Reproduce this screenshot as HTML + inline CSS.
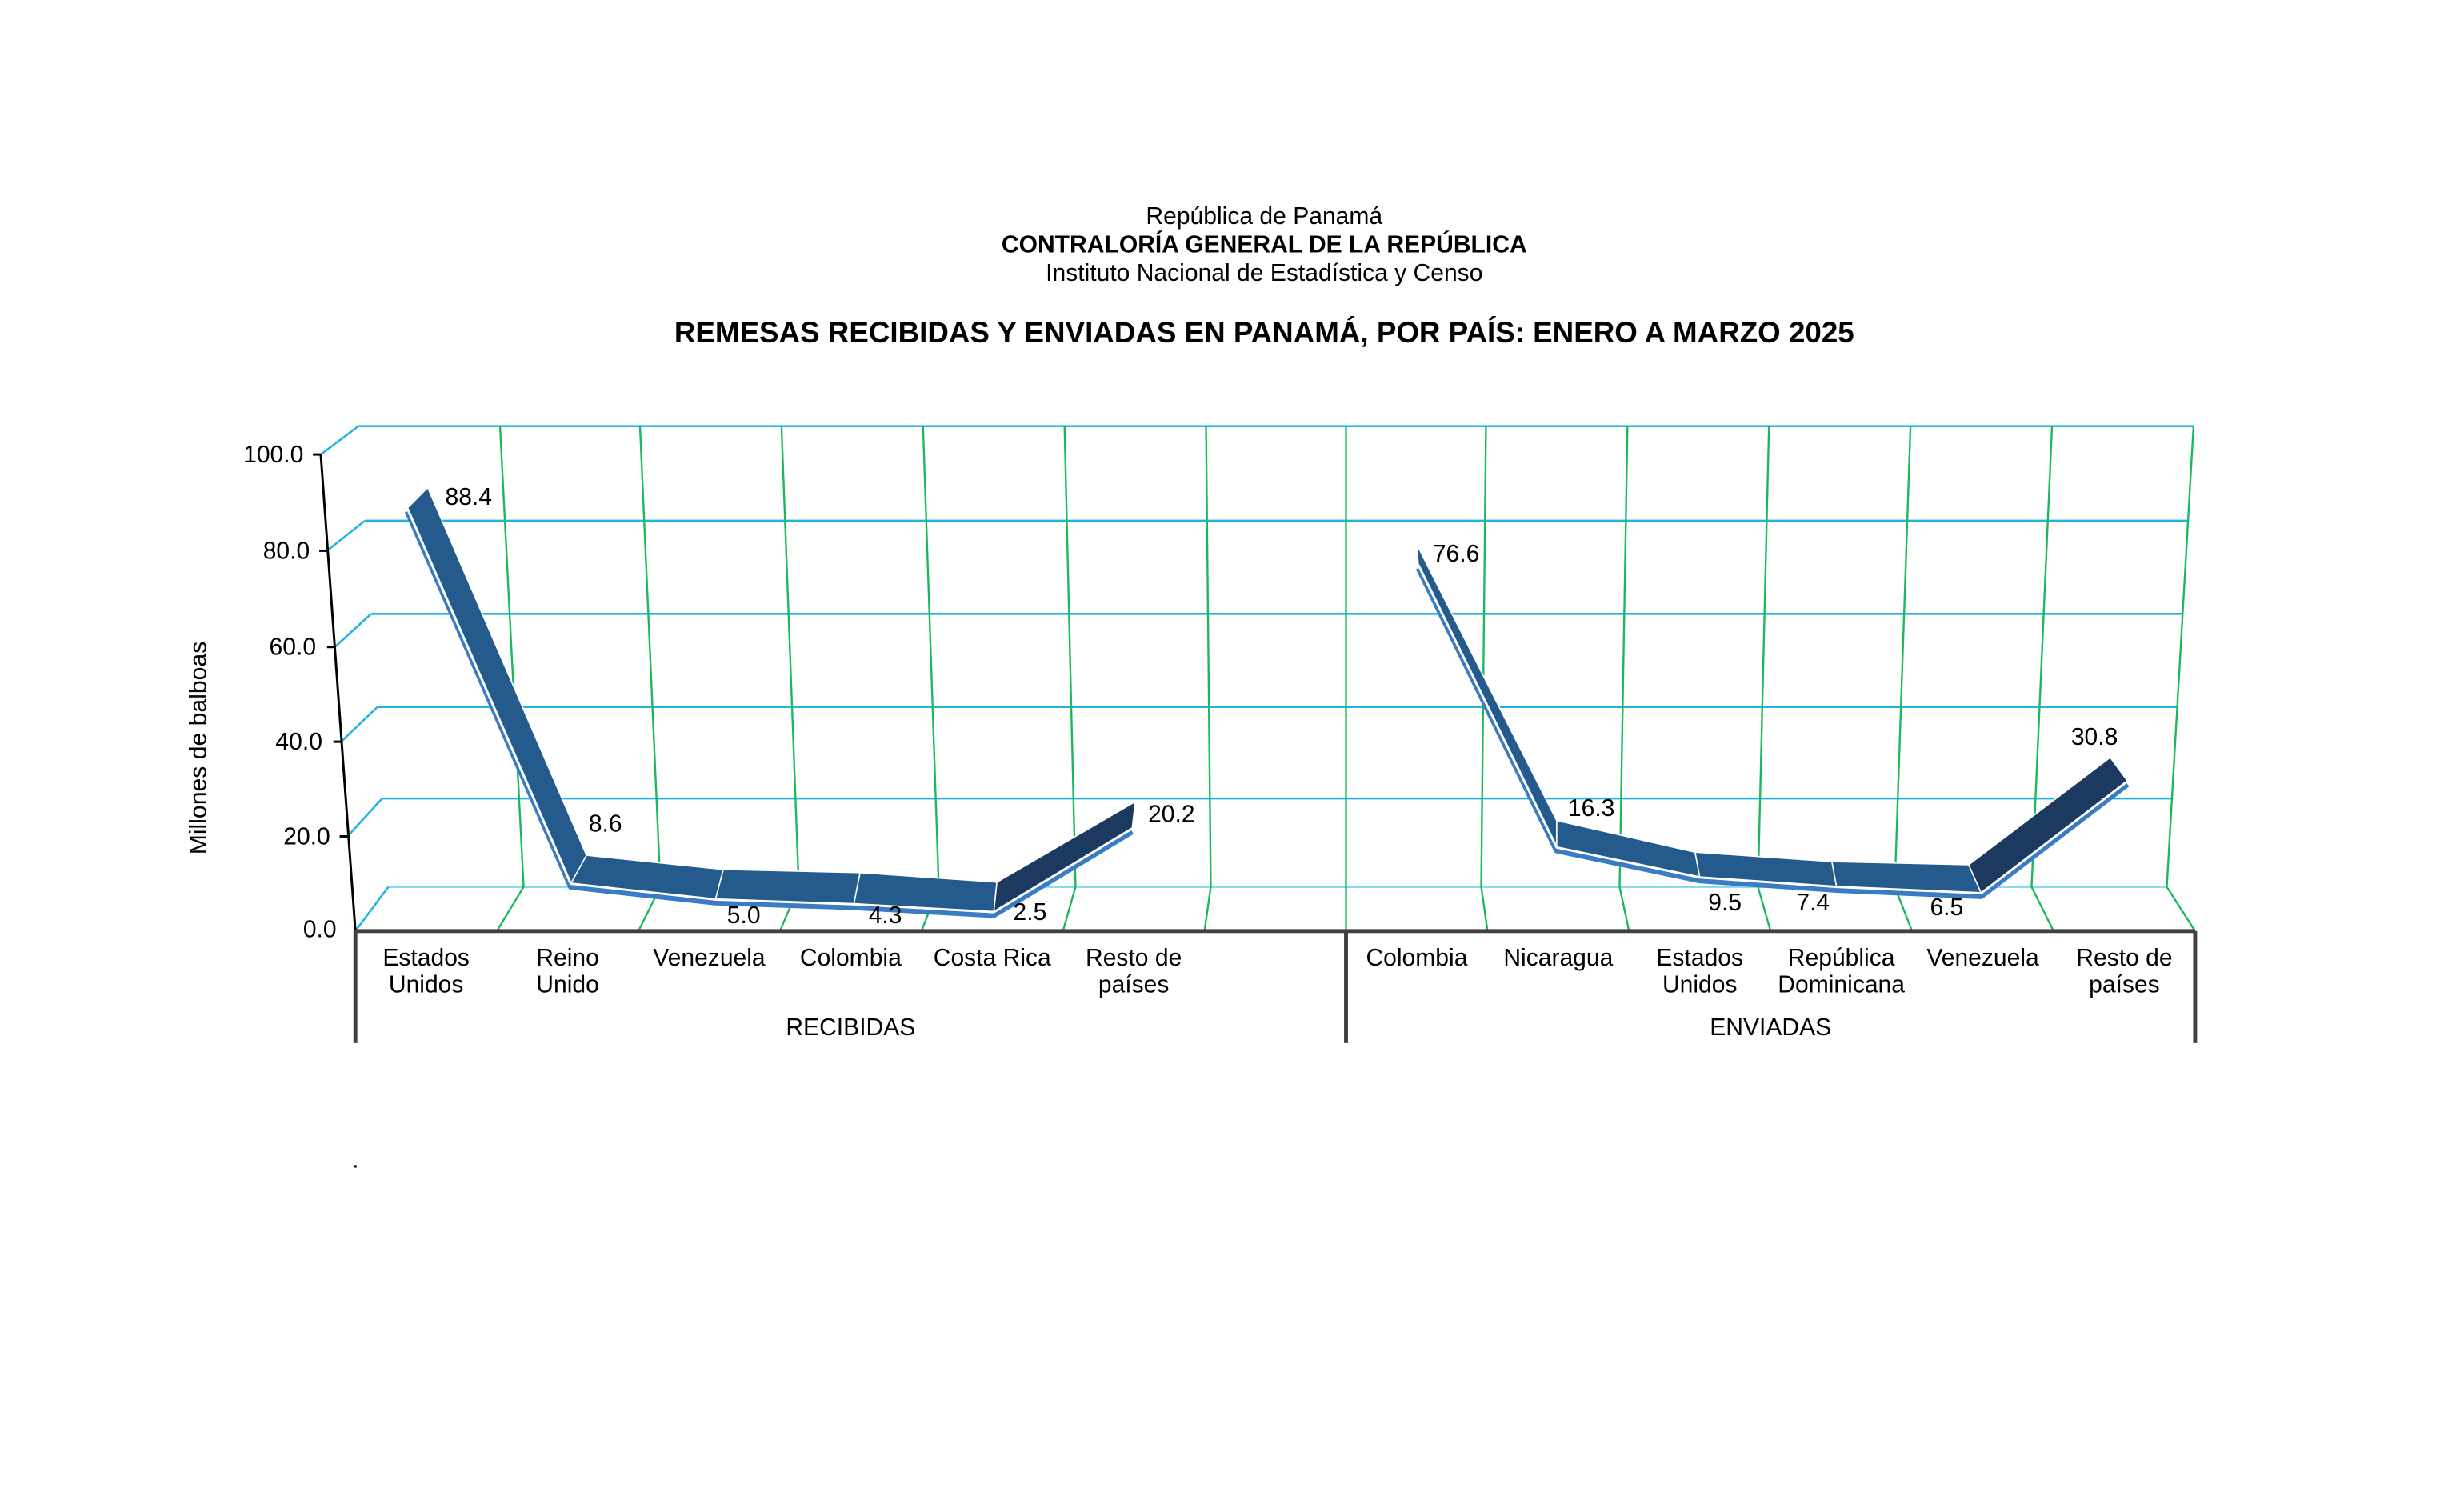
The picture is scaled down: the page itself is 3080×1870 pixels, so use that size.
<!DOCTYPE html>
<html><head><meta charset="utf-8"><style>
html,body{margin:0;padding:0;background:#fff}
svg{display:block}
text{font-family:"Liberation Sans",Arial,sans-serif;fill:#000}
</style></head><body>
<svg width="3080" height="1870" viewBox="0 0 1567 948" preserveAspectRatio="none" xmlns="http://www.w3.org/2000/svg">
<rect width="1567" height="948" fill="#fff"/>
<!-- titles -->
<text x="804" y="142" font-size="15.3" text-anchor="middle">República de Panamá</text>
<text x="804" y="160" font-size="15.3" font-weight="bold" text-anchor="middle">CONTRALORÍA GENERAL DE LA REPÚBLICA</text>
<text x="804" y="178" font-size="15.3" text-anchor="middle">Instituto Nacional de Estadística y Censo</text>
<text x="804" y="217" font-size="18.7" font-weight="bold" text-anchor="middle">REMESAS RECIBIDAS Y ENVIADAS EN PANAMÁ, POR PAÍS: ENERO A MARZO 2025</text>

<g stroke="#1fb3e0" stroke-width="1.3" fill="none">
<line x1="228" y1="270" x2="1395" y2="270"/>
<line x1="232" y1="330" x2="1391" y2="330"/>
<line x1="236" y1="389" x2="1388" y2="389"/>
<line x1="240" y1="448" x2="1385" y2="448"/>
<line x1="243" y1="506" x2="1381" y2="506"/>
<line x1="247" y1="562" x2="1378" y2="562" stroke="#7fd6f0"/>
<line x1="228" y1="270" x2="204" y2="288"/>
<line x1="232" y1="330" x2="208" y2="349"/>
<line x1="236" y1="389" x2="213" y2="410"/>
<line x1="240" y1="448" x2="217" y2="470"/>
<line x1="243" y1="506" x2="221" y2="530"/>
<line x1="247" y1="562" x2="226" y2="590"/>
</g>
<g stroke="#19b85a" stroke-width="1.2" fill="none">
<polyline points="318,270 333,562 316,590"/>
<polyline points="407,270 420,562 406,590"/>
<polyline points="497,270 508,562 496,590"/>
<polyline points="587,270 597,562 586,590"/>
<polyline points="677,270 684,562 676,590"/>
<polyline points="767,270 770,562 766,590"/>
<polyline points="856,270 856,562 856,590"/>
<polyline points="945,270 942,562 946,590"/>
<polyline points="1035,270 1030,562 1036,590"/>
<polyline points="1125,270 1118,562 1126,590"/>
<polyline points="1215,270 1205,562 1216,590"/>
<polyline points="1305,270 1292,562 1306,590"/>
<polyline points="1395,270 1378,562 1396,590"/>
</g>
<g stroke="#000" stroke-width="1.5">
<line x1="204" y1="288" x2="226" y2="590"/>
<line x1="199" y1="288" x2="204" y2="288"/>
<line x1="203" y1="349" x2="208" y2="349"/>
<line x1="208" y1="410" x2="213" y2="410"/>
<line x1="212" y1="470" x2="217" y2="470"/>
<line x1="216" y1="530" x2="221" y2="530"/>
</g>
<g font-size="15.3" text-anchor="end">
<text x="193" y="293">100.0</text>
<text x="197" y="354">80.0</text>
<text x="201" y="415">60.0</text>
<text x="205" y="475">40.0</text>
<text x="210" y="535">20.0</text>
<text x="214" y="594">0.0</text>
</g>
<text transform="translate(131,474) rotate(-90)" font-size="15.3" text-anchor="middle">Millones de balboas</text>

<g stroke="#fff" stroke-width="0.8">
<polygon points="259,322 363,560 373,542 272,309" fill="#255a8c"/>
<polygon points="363,560 455,570 460,551 373,542" fill="#255a8c"/>
<polygon points="455,570 543,573 547,553 460,551" fill="#255a8c"/>
<polygon points="543,573 632,578 634,559 547,553" fill="#255a8c"/>
<polygon points="632,578 720,525 722,508 634,559" fill="#1c3a5f"/>
<polygon points="902,358 990,537 990,520 901,345" fill="#255a8c"/>
<polygon points="990,537 1081,556 1078,540 990,520" fill="#255a8c"/>
<polygon points="1081,556 1168,562 1165,546 1078,540" fill="#255a8c"/>
<polygon points="1168,562 1260,566 1252,548 1165,546" fill="#255a8c"/>
<polygon points="1260,566 1353,495 1342,480 1252,548" fill="#1c3a5f"/>
</g>
<g fill="none" stroke-linejoin="round">
<polyline points="259,324 363,562 455,572 543,575 632,580 720,527" stroke="#3a7cc4" stroke-width="3.5"/>
<polyline points="259,322 363,560 455,570 543,573 632,578 720,525" stroke="#fff" stroke-width="1.5"/>
<polyline points="902,360 990,539 1081,558 1168,564 1260,568 1353,497" stroke="#3a7cc4" stroke-width="3.5"/>
<polyline points="902,358 990,537 1081,556 1168,562 1260,566 1353,495" stroke="#fff" stroke-width="1.5"/>
</g>
<g font-size="15.3" text-anchor="middle">
<text x="298" y="320">88.4</text>
<text x="385" y="527">8.6</text>
<text x="473" y="585">5.0</text>
<text x="563" y="585">4.3</text>
<text x="655" y="583">2.5</text>
<text x="745" y="521">20.2</text>
<text x="926" y="356">76.6</text>
<text x="1012" y="517">16.3</text>
<text x="1097" y="577">9.5</text>
<text x="1153" y="577">7.4</text>
<text x="1238" y="580">6.5</text>
<text x="1332" y="472">30.8</text>
</g>

<g stroke="#404040" stroke-width="2.5" fill="none">
<line x1="226" y1="590" x2="1396" y2="590"/>
<line x1="226" y1="590" x2="226" y2="661"/>
<line x1="856" y1="590" x2="856" y2="661"/>
<line x1="1396" y1="590" x2="1396" y2="661"/>
</g>
<g font-size="15.3" text-anchor="middle">
<text x="271" y="612">Estados</text><text x="271" y="629">Unidos</text>
<text x="361" y="612">Reino</text><text x="361" y="629">Unido</text>
<text x="451" y="612">Venezuela</text>
<text x="541" y="612">Colombia</text>
<text x="631" y="612">Costa Rica</text>
<text x="721" y="612">Resto de</text><text x="721" y="629">países</text>
<text x="901" y="612">Colombia</text>
<text x="991" y="612">Nicaragua</text>
<text x="1081" y="612">Estados</text><text x="1081" y="629">Unidos</text>
<text x="1171" y="612">República</text><text x="1171" y="629">Dominicana</text>
<text x="1261" y="612">Venezuela</text>
<text x="1351" y="612">Resto de</text><text x="1351" y="629">países</text>
<text x="541" y="656">RECIBIDAS</text>
<text x="1126" y="656">ENVIADAS</text>
</g>
<text x="224" y="740" font-size="15">.</text>
</svg>
</body></html>
